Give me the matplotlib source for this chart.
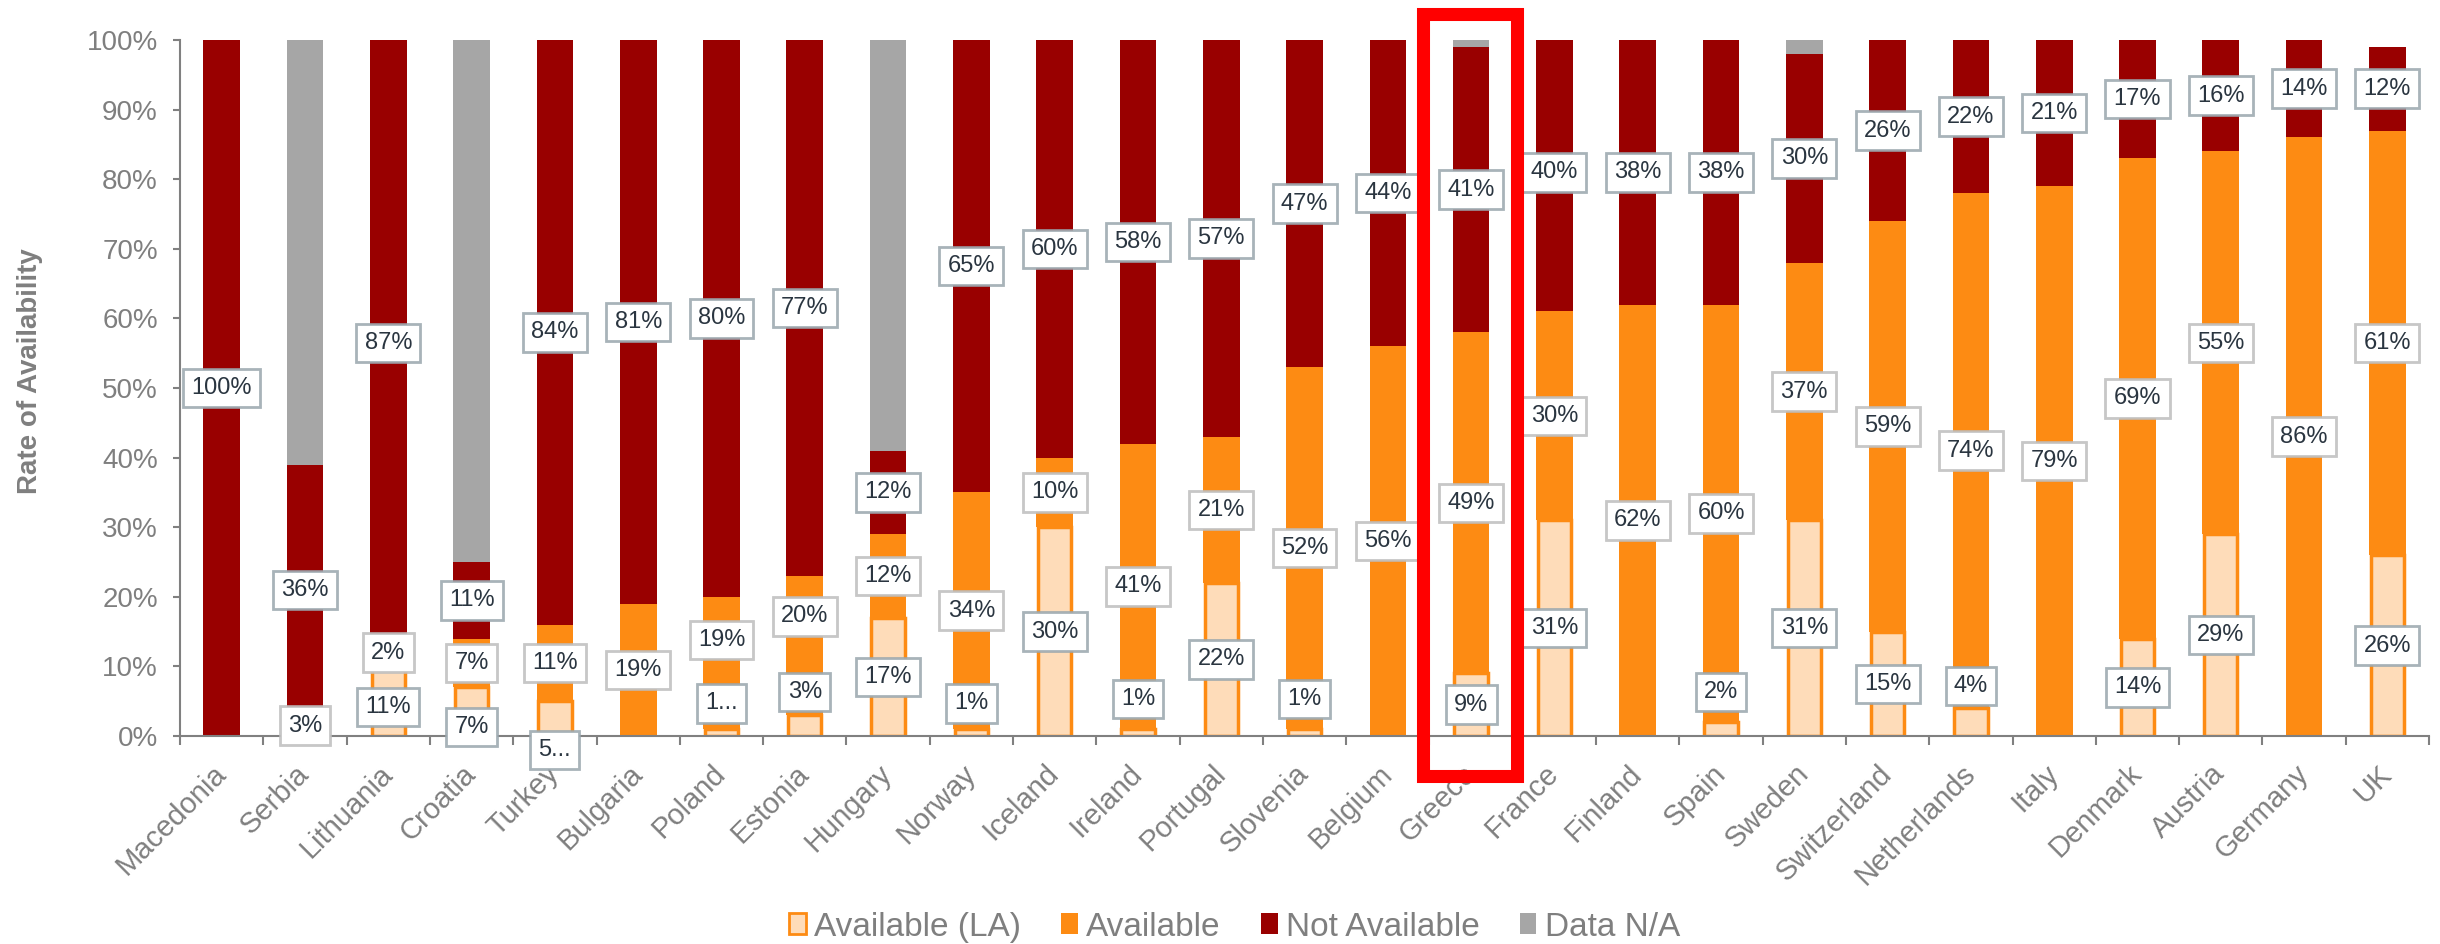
import numpy as np
import matplotlib
matplotlib.use('Agg')
import matplotlib.pyplot as plt
from matplotlib.patches import Patch, Rectangle
from matplotlib.ticker import PercentFormatter, FixedLocator

plt.rcParams['font.family'] = ['Liberation Sans', 'DejaVu Sans']

# Data (percent of responses per country)
countries = ['Macedonia', 'Serbia', 'Lithuania', 'Croatia', 'Turkey', 'Bulgaria', 'Poland',
             'Estonia', 'Hungary', 'Norway', 'Iceland', 'Ireland', 'Portugal', 'Slovenia',
             'Belgium', 'Greece', 'France', 'Finland', 'Spain', 'Sweden', 'Switzerland',
             'Netherlands', 'Italy', 'Denmark', 'Austria', 'Germany', 'UK']
avail_la = [0, 0, 11, 7, 5, 0, 1, 3, 17, 1, 30, 1, 22, 1, 0, 9, 31, 0, 2, 31, 15, 4, 0, 14, 29, 0, 26]
available = [0, 3, 2, 7, 11, 19, 19, 20, 12, 34, 10, 41, 21, 52, 56, 49, 30, 62, 60, 37, 59, 74, 79, 69, 55, 86, 61]
not_available = [100, 36, 87, 11, 84, 81, 80, 77, 12, 65, 60, 58, 57, 47, 44, 41, 40, 38, 38, 30, 26, 22, 21, 17, 16, 14, 12]
data_na = [0, 61, 0, 75, 0, 0, 0, 0, 59, 0, 0, 0, 0, 0, 0, 1, 0, 0, 0, 2, 0, 0, 0, 0, 0, 0, 0]

highlight = 'Greece'

# label tweaks (text / vertical position) where the original labels were moved
label_text = {('Turkey', 0): '5...', ('Poland', 0): '1...'}
label_y = {('Turkey', 0): -0.02, ('Croatia', 0): 0.013, ('Lithuania', 0): 0.042,
           ('Poland', 0): 0.047, ('Estonia', 0): 0.063, ('Norway', 0): 0.047,
           ('Ireland', 0): 0.053, ('Slovenia', 0): 0.053, ('Spain', 0): 0.063,
           ('Netherlands', 0): 0.072, ('Poland', 1): 0.138, ('Estonia', 1): 0.172}

c_la = '#FEDCB9'
c_av = '#FD8B13'
c_na = '#990000'
c_dna = '#A6A6A6'
grey = '#7F7F7F'

x = np.arange(len(countries))
la = np.array(avail_la) / 100
av = np.array(available) / 100
na = np.array(not_available) / 100
dn = np.array(data_na) / 100

fig, ax = plt.subplots(figsize=(24.4, 9.44), dpi=100)
fig.subplots_adjust(left=0.0738, right=0.9955, bottom=0.2203, top=0.9576)

w = 0.44
m = la > 0
ax.bar(x[m], la[m], 0.40, color=c_la, edgecolor=c_av, linewidth=2.5, zorder=2)
ax.bar(x, av, w, bottom=la, color=c_av, linewidth=0, zorder=2)
ax.bar(x, na, w, bottom=la + av, color=c_na, linewidth=0, zorder=2)
ax.bar(x, dn, w, bottom=la + av + na, color=c_dna, linewidth=0, zorder=2)

# data labels
series = [la, av, na]
bottoms = [np.zeros_like(la), la, la + av]
edge_cols = [(0.60, 0.65, 0.68, 0.85), (0.74, 0.74, 0.74, 0.85), (0.60, 0.65, 0.68, 0.85)]
for s, (vals, bot) in enumerate(zip(series, bottoms)):
    for i, c in enumerate(countries):
        if vals[i] <= 0:
            continue
        y = label_y.get((c, s), bot[i] + vals[i] / 2)
        txt = label_text.get((c, s), f'{vals[i] * 100:.0f}%')
        ax.text(i, y, txt, ha='center', va='center', fontsize=17, color='#2A3540',
                zorder=5, clip_on=False,
                bbox=dict(boxstyle='square,pad=0.35', facecolor='white',
                          edgecolor=edge_cols[s], linewidth=2))

ax.set_xlim(-0.5, len(countries) - 0.5)
ax.set_ylim(0, 1)
ax.yaxis.set_major_locator(FixedLocator(np.arange(0, 1.01, 0.1)))
ax.yaxis.set_major_formatter(PercentFormatter(1.0, decimals=0))
ax.set_xticks(x)
ax.set_xticklabels(countries, rotation=45, ha='right', va='center', rotation_mode='anchor')
ax.set_xticks(np.arange(-0.5, len(countries), 1), minor=True)
ax.tick_params(axis='x', which='major', length=0, pad=24, labelsize=21, labelcolor=grey)
ax.tick_params(axis='x', which='minor', length=6.5, width=1.5, color='#808080')
ax.tick_params(axis='y', length=5, width=1.5, color='#808080', labelsize=20, labelcolor=grey, pad=11)

for sp in ['top', 'right']:
    ax.spines[sp].set_visible(False)
for sp in ['left', 'bottom']:
    ax.spines[sp].set_color('#808080')
    ax.spines[sp].set_linewidth(1.5)

ax.set_ylabel('Rate of Availability', fontsize=20, fontweight='bold', color=grey)
ax.yaxis.set_label_coords(-0.061, 0.524)

# highlight box around one country
hi = countries.index(highlight)
ax.add_patch(Rectangle((hi - 0.58, -0.058), 1.126, 1.095, fill=False, edgecolor='#FF0000',
                       linewidth=9.4, clip_on=False, zorder=10))

handles = [Patch(facecolor=c_la, edgecolor=c_av, linewidth=2),
           Patch(facecolor=c_av), Patch(facecolor=c_na), Patch(facecolor=c_dna)]
fig.legend(handles, ['Available (LA)', 'Available', 'Not Available', 'Data N/A'],
           loc='center', bbox_to_anchor=(0.506, 0.018), ncol=4, frameon=False,
           fontsize=24, handlelength=0.5, handleheight=0.6, handletextpad=0.25,
           columnspacing=1.2, labelcolor=grey)

fig.savefig('out.png', dpi=100)
